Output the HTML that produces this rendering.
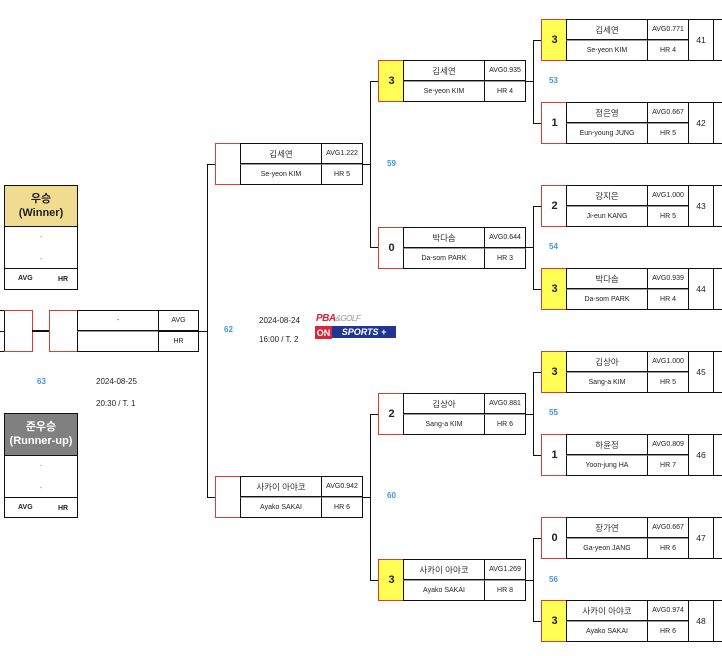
<!DOCTYPE html>
<html><head><meta charset="utf-8"><style>
body{margin:0;width:722px;height:656px;background:#fff;position:relative;overflow:hidden;font-family:"Liberation Sans","Noto Sans CJK KR",sans-serif;color:#222}
div{box-sizing:border-box;position:absolute}
.m{height:42px;width:200px}
.s{left:0;top:0;width:26px;height:42px;border:1px solid #e03a2e;border-right:none;font-weight:bold;font-size:11px;display:flex;align-items:center;justify-content:center;background:#fff}
.y{background:#ffff55}
.c{border:1px solid #111;display:flex;align-items:center;justify-content:center;font-size:7px;height:21px}
.n1{left:25px;top:0;width:82px;font-size:8.5px;color:#333}
.n2{left:25px;top:21px;width:82px;border-top:1px solid #999}
.a1{left:106px;top:0;width:42px}
.a2{left:106px;top:21px;width:42px;border-top:1px solid #999}
.sd{left:147px;top:0;width:26px;height:42px;border:1px solid #111;font-size:8.5px;display:flex;align-items:center;justify-content:center}
.ext{left:172px;height:1px;width:20px;background:#111}
.h{height:1px;background:#111}
.v{width:1px;background:#111}
.lb{color:#3a9ad9;font-size:8px;font-weight:bold}
.t{font-size:8px;color:#222}
</style></head><body>

<!-- Round of 16 -->
<div class="m" style="left:541px;top:19px"><div class="s y">3</div><div class="c n1">김세연</div><div class="c a1">AVG0.771</div><div class="c n2">Se-yeon KIM</div><div class="c a2">HR 4</div><div class="sd">41</div><div class="ext" style="top:0"></div><div class="ext" style="top:41px"></div></div>
<div class="m" style="left:541px;top:102px"><div class="s">1</div><div class="c n1">정은영</div><div class="c a1">AVG0.667</div><div class="c n2">Eun-young JUNG</div><div class="c a2">HR 5</div><div class="sd">42</div><div class="ext" style="top:0"></div><div class="ext" style="top:41px"></div></div>
<div class="m" style="left:541px;top:185px"><div class="s">2</div><div class="c n1">강지은</div><div class="c a1">AVG1.000</div><div class="c n2">Ji-eun KANG</div><div class="c a2">HR 5</div><div class="sd">43</div><div class="ext" style="top:0"></div><div class="ext" style="top:41px"></div></div>
<div class="m" style="left:541px;top:268px"><div class="s y">3</div><div class="c n1">박다솜</div><div class="c a1">AVG0.939</div><div class="c n2">Da-som PARK</div><div class="c a2">HR 4</div><div class="sd">44</div><div class="ext" style="top:0"></div><div class="ext" style="top:41px"></div></div>
<div class="m" style="left:541px;top:351px"><div class="s y">3</div><div class="c n1">김상아</div><div class="c a1">AVG1.000</div><div class="c n2">Sang-a KIM</div><div class="c a2">HR 5</div><div class="sd">45</div><div class="ext" style="top:0"></div><div class="ext" style="top:41px"></div></div>
<div class="m" style="left:541px;top:434px"><div class="s">1</div><div class="c n1">하윤정</div><div class="c a1">AVG0.809</div><div class="c n2">Yoon-jung HA</div><div class="c a2">HR 7</div><div class="sd">46</div><div class="ext" style="top:0"></div><div class="ext" style="top:41px"></div></div>
<div class="m" style="left:541px;top:517px"><div class="s">0</div><div class="c n1">장가연</div><div class="c a1">AVG0.667</div><div class="c n2">Ga-yeon JANG</div><div class="c a2">HR 6</div><div class="sd">47</div><div class="ext" style="top:0"></div><div class="ext" style="top:41px"></div></div>
<div class="m" style="left:541px;top:600px"><div class="s y">3</div><div class="c n1">사카이 아야코</div><div class="c a1">AVG0.974</div><div class="c n2">Ayako SAKAI</div><div class="c a2">HR 6</div><div class="sd">48</div><div class="ext" style="top:0"></div><div class="ext" style="top:41px"></div></div>

<!-- R16 connectors -->
<div class="v" style="left:533px;top:40px;height:84px"></div><div class="h" style="left:533px;top:40px;width:8px"></div><div class="h" style="left:533px;top:123px;width:8px"></div>
<div class="v" style="left:533px;top:206px;height:84px"></div><div class="h" style="left:533px;top:206px;width:8px"></div><div class="h" style="left:533px;top:289px;width:8px"></div>
<div class="v" style="left:533px;top:372px;height:84px"></div><div class="h" style="left:533px;top:372px;width:8px"></div><div class="h" style="left:533px;top:455px;width:8px"></div>
<div class="v" style="left:533px;top:538px;height:84px"></div><div class="h" style="left:533px;top:538px;width:8px"></div><div class="h" style="left:533px;top:621px;width:8px"></div>
<div class="lb" style="left:549px;top:76px">53</div>
<div class="lb" style="left:549px;top:242px">54</div>
<div class="lb" style="left:549px;top:408px">55</div>
<div class="lb" style="left:549px;top:575px">56</div>

<!-- QF -->
<div class="m" style="left:378px;top:60px"><div class="s y">3</div><div class="c n1">김세연</div><div class="c a1">AVG0.935</div><div class="c n2">Se-yeon KIM</div><div class="c a2">HR 4</div></div>
<div class="m" style="left:378px;top:227px"><div class="s">0</div><div class="c n1">박다솜</div><div class="c a1">AVG0.644</div><div class="c n2">Da-som PARK</div><div class="c a2">HR 3</div></div>
<div class="m" style="left:378px;top:393px"><div class="s">2</div><div class="c n1">김상아</div><div class="c a1">AVG0.881</div><div class="c n2">Sang-a KIM</div><div class="c a2">HR 6</div></div>
<div class="m" style="left:378px;top:559px"><div class="s y">3</div><div class="c n1">사카이 아야코</div><div class="c a1">AVG1.269</div><div class="c n2">Ayako SAKAI</div><div class="c a2">HR 8</div></div>
<div class="h" style="left:525px;top:81px;width:8px"></div>
<div class="h" style="left:525px;top:247px;width:8px"></div>
<div class="h" style="left:525px;top:414px;width:8px"></div>
<div class="h" style="left:525px;top:580px;width:8px"></div>

<div class="v" style="left:370px;top:81px;height:167px"></div><div class="h" style="left:370px;top:81px;width:8px"></div><div class="h" style="left:370px;top:247px;width:8px"></div>
<div class="v" style="left:370px;top:414px;height:167px"></div><div class="h" style="left:370px;top:414px;width:8px"></div><div class="h" style="left:370px;top:580px;width:8px"></div>
<div class="lb" style="left:387px;top:159px">59</div>
<div class="lb" style="left:387px;top:491px">60</div>

<!-- SF -->
<div class="m" style="left:215px;top:143px"><div class="s"></div><div class="c n1">김세연</div><div class="c a1">AVG1.222</div><div class="c n2">Se-yeon KIM</div><div class="c a2">HR 5</div></div>
<div class="m" style="left:215px;top:476px"><div class="s"></div><div class="c n1">사카이 아야코</div><div class="c a1">AVG0.942</div><div class="c n2">Ayako SAKAI</div><div class="c a2">HR 6</div></div>
<div class="h" style="left:362px;top:164px;width:8px"></div>
<div class="h" style="left:362px;top:497px;width:8px"></div>
<div class="v" style="left:207px;top:164px;height:334px"></div><div class="h" style="left:207px;top:164px;width:8px"></div><div class="h" style="left:207px;top:497px;width:8px"></div>
<div class="lb" style="left:224px;top:325px">62</div>
<div class="t" style="left:259px;top:316px">2024-08-24</div>
<div class="t" style="left:259px;top:335px">16:00 / T. 2</div>
<div style="left:316px;top:313px;width:80px;font-size:10px;font-weight:bold;color:#d0243a;font-style:italic;letter-spacing:-0.5px">PBA<span style="font-size:8px;color:#999;font-weight:normal">&amp;GOLF</span></div>
<div style="left:315px;top:326px;width:17px;height:13px;background:#d8283c;color:#fff;font-size:9px;font-weight:bold;display:flex;align-items:center;justify-content:center">ON</div>
<div style="left:332px;top:326px;width:64px;height:12px;background:#1f3790;color:#fff;font-size:9px;font-weight:bold;font-style:italic;display:flex;align-items:center;justify-content:center">SPORTS +</div>

<!-- Final -->
<div class="h" style="left:199px;top:331px;width:8px"></div>
<div style="left:0;top:310px;width:5px;height:42px;border:1px solid #111;border-left:none"></div>
<div class="h" style="left:0;top:331px;width:5px"></div>
<div style="left:4px;top:310px;width:29px;height:42px;border:1px solid #e03a2e;border-left:none"></div>
<div style="left:32px;top:330px;width:18px;height:2px;background:#111"></div>
<div style="left:49px;top:310px;width:29px;height:42px;border:1px solid #e03a2e;border-right:none"></div>
<div class="c" style="left:77px;top:310px;width:82px">-</div>
<div class="c" style="left:158px;top:310px;width:41px">AVG</div>
<div class="c" style="left:77px;top:331px;width:82px;border-top:1px solid #999"></div>
<div class="c" style="left:158px;top:331px;width:41px">HR</div>
<div class="lb" style="left:37px;top:377px">63</div>
<div class="t" style="left:96px;top:377px">2024-08-25</div>
<div class="t" style="left:96px;top:399px">20:30 / T. 1</div>

<!-- Winner -->
<div style="left:4px;top:185px;width:74px;height:105px;border:1px solid #111"></div>
<div style="left:4px;top:185px;width:74px;height:42px;background:#f0dc90;border:1px solid #111;font-size:11px;font-weight:bold;text-align:center;line-height:14px;padding-top:6px">우승<br>(Winner)</div>
<div style="left:4px;top:226px;width:74px;height:43px;border:1px solid #111;font-size:7px;text-align:center;line-height:22px;color:#777">-<br>-</div>
<div style="left:4px;top:268px;width:74px;height:22px;border:1px solid #111;font-size:7px;font-weight:bold"><span style="position:absolute;left:13px;top:6px">AVG</span><span style="position:absolute;left:53px;top:7px">HR</span></div>

<!-- Runner-up -->
<div style="left:4px;top:413px;width:74px;height:105px;border:1px solid #111"></div>
<div style="left:4px;top:413px;width:74px;height:43px;background:#808080;color:#fff;border:1px solid #111;font-size:11px;font-weight:bold;text-align:center;line-height:14px;padding-top:6px">준우승<br>(Runner-up)</div>
<div style="left:4px;top:455px;width:74px;height:43px;border:1px solid #111;border-bottom-color:#aaa;font-size:7px;text-align:center;line-height:22px;color:#777">-<br>-</div>
<div style="left:4px;top:497px;width:74px;height:21px;border:1px solid #111;font-size:7px;font-weight:bold"><span style="position:absolute;left:13px;top:6px">AVG</span><span style="position:absolute;left:53px;top:7px">HR</span></div>

</body></html>
